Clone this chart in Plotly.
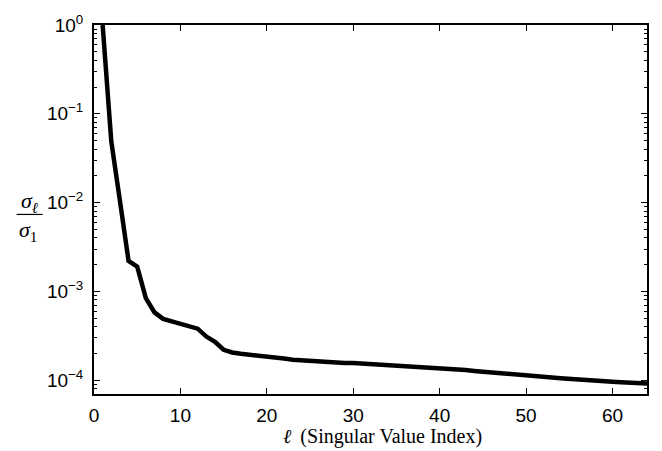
import plotly.graph_objects as go

# ---- data ----
index = list(range(1, 65))
ratio = [
    1.0, 0.049, 0.0105, 0.0022, 0.0019, 0.00084, 0.00058, 0.00049,
    0.00046, 0.00043, 0.00040, 0.00038, 0.00031, 0.00027, 0.00022, 0.000205,
    0.000198, 0.000194, 0.00019, 0.000182, 0.000178, 0.000175, 0.00017, 0.000167,
    0.000165, 0.000162, 0.000159, 0.000157, 0.000156, 0.000156, 0.000154, 0.000152,
    0.000151, 0.000149, 0.000147, 0.000145, 0.000143, 0.000141, 0.000138, 0.000136,
    0.000134, 0.000132, 0.00013, 0.000127, 0.000125, 0.000123, 0.000121, 0.000119,
    0.000117, 0.000115, 0.000112, 0.00011, 0.000107, 0.000105, 0.000103, 0.000102,
    0.000101, 0.000099, 0.000097, 0.000096, 0.000095, 0.000094, 0.000093, 0.000092,
]
x_ticks = [0, 10, 20, 30, 40, 50, 60]
y_tick_exps = [0, -1, -2, -3, -4]
y_tick_labels = ["10<sup>%s</sup>" % (str(e).replace("-", "\u2212")) for e in y_tick_exps]
y_tick_vals = [10.0 ** e for e in y_tick_exps]
x_title = "<i>\u2113</i>\u2009 (Singular Value Index)"

# ---- layout geometry (page pixels of the reference) ----
W, H = 662, 451
plot_left, plot_right, plot_top, plot_bottom = 93.5, 647.3, 20, 394
L = plot_left
R = W - plot_right
T = plot_top
B = H - plot_bottom
pw, ph = W - L - R, H - T - B

def px(x):
    return (x - L) / pw

def py(y):
    return (H - B - y) / ph

minor_vals = [k * 10.0 ** e for e in range(-5, 0) for k in range(2, 10)]

fig = go.Figure()
fig.add_trace(go.Scatter(
    x=index, y=ratio, mode="lines",
    line=dict(color="black", width=4.5),
    showlegend=False, hoverinfo="skip",
))

tick_font = dict(family="Liberation Sans, Arial, sans-serif", size=19, color="black")
serif = "Liberation Serif, Times New Roman, serif"

fig.update_layout(
    width=W, height=H,
    margin=dict(l=L, r=R, t=T, b=B, pad=0),
    paper_bgcolor="white", plot_bgcolor="white",
    xaxis=dict(
        range=[0, 64], tickvals=x_ticks, ticks="inside", ticklen=6, tickwidth=1,
        tickcolor="black", showline=True, linecolor="black", linewidth=2,
        mirror="ticks", showgrid=False, zeroline=False, tickfont=tick_font,
        ticklabelstandoff=3, ticklabeloverflow="allow",
    ),
    yaxis=dict(
        type="log", range=[-4.1556, 0], tickvals=y_tick_vals, ticktext=y_tick_labels,
        ticks="inside", ticklen=6, tickwidth=1, tickcolor="black",
        showline=True, linecolor="black", linewidth=2, mirror="ticks",
        showgrid=False, zeroline=False, tickfont=tick_font, ticklabelstandoff=5,
        ticklabeloverflow="allow",
        minor=dict(tickvals=minor_vals, ticks="inside", ticklen=3, tickwidth=1,
                   tickcolor="black", showgrid=False),
    ),
    annotations=[
        dict(text=x_title, xref="paper", yref="paper", x=px(382), y=py(437),
             xanchor="center", yanchor="middle", showarrow=False,
             font=dict(family=serif, size=20, color="black")),
        dict(text="<i>\u03c3</i><sub><i>\u2113</i></sub>", xref="paper", yref="paper",
             x=px(29), y=py(199), xanchor="center", yanchor="middle", showarrow=False,
             font=dict(family=serif, size=22, color="black")),
        dict(text="<i>\u03c3</i><sub>1</sub>", xref="paper", yref="paper",
             x=px(28), y=py(229), xanchor="center", yanchor="middle", showarrow=False,
             font=dict(family=serif, size=22, color="black")),
    ],
    shapes=[
        dict(type="line", xref="paper", yref="paper", x0=px(16), x1=px(42),
             y0=py(212), y1=py(212), line=dict(color="black", width=1.2)),
    ],
)

fig.write_html(
    "out.html",
    config={"displayModeBar": False},
    post_script="document.body.style.margin='0px';document.body.style.overflow='hidden';",
)
